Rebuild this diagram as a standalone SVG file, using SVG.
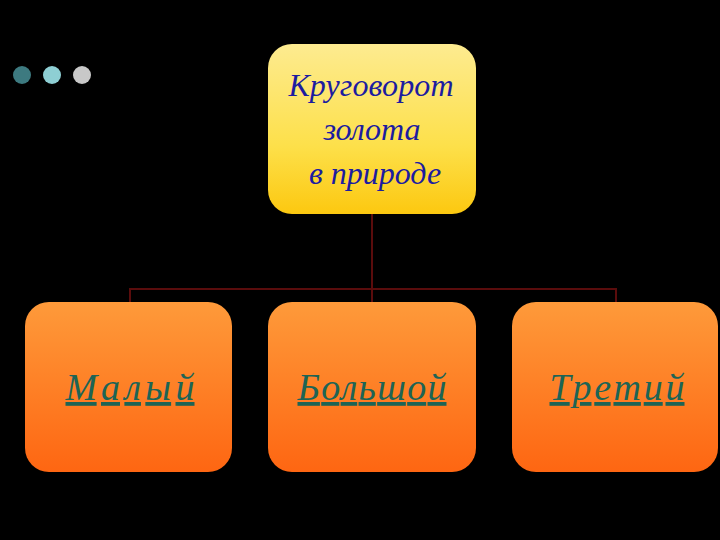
<svg xmlns="http://www.w3.org/2000/svg" width="720" height="540" viewBox="0 0 720 540">
<defs>
<linearGradient id="gy" x1="0" y1="0" x2="0" y2="1">
<stop offset="0" stop-color="#fdeb90"/>
<stop offset="0.6" stop-color="#fde04a"/>
<stop offset="1" stop-color="#fcc810"/>
</linearGradient>
<linearGradient id="go" x1="0" y1="0" x2="0" y2="1">
<stop offset="0" stop-color="#fe9a3a"/>
<stop offset="1" stop-color="#fe6612"/>
</linearGradient>
<style>
.top{font-family:"Liberation Serif","DejaVu Serif",serif;font-style:italic;font-size:32px;fill:#1c1ca0;text-anchor:middle}
.bot{font-family:"Liberation Serif","DejaVu Serif",serif;font-style:italic;font-size:38px;fill:#1d6455;text-anchor:middle;text-decoration:underline}
.conn{stroke:#5a0c0c;stroke-width:2;fill:none}
</style>
</defs>
<rect width="720" height="540" fill="#000"/>
<g id="dots">
<circle cx="22" cy="75" r="9" fill="#3d7a80"/>
<circle cx="52" cy="75" r="9" fill="#8ecfd4"/>
<circle cx="82" cy="75" r="9" fill="#c8c8c8"/>
</g>
<g id="connectors">
<path class="conn" d="M372 214 V302 M130 302 V289 H616 V302"/>
</g>
<g id="root">
<rect x="268" y="44" width="208" height="170" rx="24" fill="url(#gy)"/>
<text class="top" x="371" y="96" textLength="165" lengthAdjust="spacing">Круговорот</text>
<text class="top" x="372" y="140">золота</text>
<text class="top" x="375" y="184">в природе</text>
</g>
<g id="n1">
<rect x="25" y="302" width="207" height="170" rx="24" fill="url(#go)"/>
<text class="bot" x="130" y="400" textLength="129" lengthAdjust="spacing">Малый</text>
</g>
<g id="n2">
<rect x="268" y="302" width="208" height="170" rx="24" fill="url(#go)"/>
<text class="bot" x="372" y="400" textLength="149" lengthAdjust="spacing">Большой</text>
</g>
<g id="n3">
<rect x="512" y="302" width="206" height="170" rx="24" fill="url(#go)"/>
<text class="bot" x="617" y="400" textLength="135" lengthAdjust="spacing">Третий</text>
</g>
</svg>
